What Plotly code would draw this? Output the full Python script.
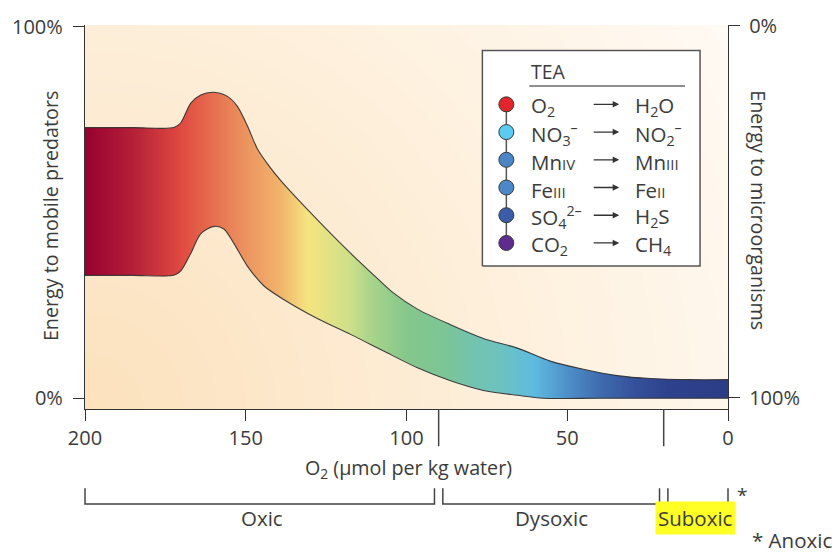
import numpy as np
import plotly.graph_objects as go

# ---------------- data ----------------
# O2 concentration (µmol per kg water) and share of energy to mobile predators (%)
upper_o2 = [200, 185, 172.4, 170.2, 167.1, 164.0, 159.9, 155.7, 152.6, 149.5, 146.4, 143.3,
            139.1, 128.9, 118.3, 109.0, 104.3, 96.6, 86.3, 76.1, 65.5, 55.3, 45.0, 34.5,
            24.2, 12.0, 0]
upper_pct = [72.9, 72.9, 72.9, 74.2, 79.5, 81.7, 82.4, 81.3, 78.6, 73.4, 67.2, 63.2,
             58.6, 49.1, 39.8, 32.2, 28.5, 24.0, 19.8, 16.1, 13.5, 10.0, 7.8, 6.1,
             5.3, 5.0, 5.0]
lower_o2 = [200, 185, 172.4, 170.2, 167.1, 164.0, 159.9, 156.8, 153.7, 149.5, 144.4, 138.2,
            127.6, 117.4, 107.1, 96.6, 86.3, 76.1, 65.5, 57.5, 40, 20, 0]
lower_pct = [33.1, 33.1, 33.1, 34.3, 39.0, 44.3, 46.3, 45.6, 41.7, 35.6, 30.3, 26.6,
             21.4, 17.2, 12.7, 8.2, 4.7, 2.1, 0.8, 0.0, 0.0, 0.0, 0.0]

# colour of the band along the O2 axis
grad_o2 = [0, 18.9, 29.5, 39.8, 50, 60.6, 70, 80, 88, 100, 111, 118, 130.7, 139, 149.5, 160, 170, 185, 200]
grad_colors = ["#2C3D87", "#2E418C", "#35519B", "#3F6BAE", "#4E8FC8", "#5EBBE0", "#6CC2C0",
               "#74C3AE", "#7BC596", "#85C78C", "#A8D48A", "#CFE08A", "#F5E47F", "#F1B56C",
               "#EC9560", "#E6704F", "#E04A40", "#B52038", "#98002F"]

x_ticks = [200, 150, 100, 50, 0]
y_ticks = [0, 100]
y_ticktext = ["0%", "100%"]

zones = ["Oxic", "Dysoxic", "Suboxic"]
zone_hi = [200, 90, 20]
zone_lo = [90, 20, 0]

tea_from = ["O<sub>2</sub>", "NO<sub>3</sub><sup>–</sup>",
            "Mn<span style='font-size:15px'>IV</span>",
            "Fe<span style='font-size:15px'>III</span>",
            "SO<sub>4</sub><sup>2–</sup>", "CO<sub>2</sub>"]
tea_to = ["H<sub>2</sub>O", "NO<sub>2</sub><sup>–</sup>",
          "Mn<span style='font-size:15px'>III</span>",
          "Fe<span style='font-size:15px'>II</span>",
          "H<sub>2</sub>S", "CH<sub>4</sub>"]
tea_colors = ["#E1262B", "#5CCBF2", "#4A85C6", "#4C87C7", "#3B5CA9", "#5E2C8F"]

# ---------------- geometry ----------------
W, H = 837, 555
L, R, T, B = 84, 109, 17, 146
PW, PH = W - L - R, H - T - B
X_RANGE = [200, 0]
Y_RANGE = [-2.9, 100.53]
Y2_RANGE = [103.03, -0.26]
TXT = "#3b3b3b"
LINE = "#333333"
FONT = "Open Sans"


def pxx(px):
    return (px - L) / PW


def pxy(py):
    return (H - B - py) / PH


def xdata2paper(v):
    return (X_RANGE[0] - v) / (X_RANGE[0] - X_RANGE[1])


fig = go.Figure()

# background soft radial gradient (from bottom-left)
bg_x = np.linspace(200, 0, 24)
bg_y = np.linspace(Y_RANGE[0], Y_RANGE[1], 16)
dx = (200 - bg_x) / 200 * PW
dy = (bg_y - Y_RANGE[0]) / (Y_RANGE[1] - Y_RANGE[0]) * PH
bg_z = np.sqrt(dx[None, :] ** 2 + dy[:, None] ** 2) / np.hypot(PW, PH)
fig.add_trace(go.Heatmap(
    x=bg_x, y=bg_y, z=bg_z, zsmooth="best", showscale=False, hoverinfo="skip",
    zmin=0, zmax=1,
    colorscale=[[0, "#FCE1BC"], [0.35, "#FDEAD0"], [0.7, "#FEF3E3"], [1, "#FFFAF4"]]))

# the energy band
band_scale = [[o / 200, c] for o, c in zip(grad_o2, grad_colors)]
outline = dict(color="rgba(45,45,45,0.9)", width=1.1, shape="spline", smoothing=0.8)
fig.add_trace(go.Scatter(x=lower_o2, y=lower_pct, mode="lines", line=outline,
                         hoverinfo="skip", showlegend=False))
fig.add_trace(go.Scatter(x=upper_o2, y=upper_pct, mode="lines", line=outline,
                         fill="tonexty",
                         fillgradient=dict(type="horizontal", colorscale=band_scale,
                                           start=0, stop=200),
                         hoverinfo="skip", showlegend=False))

# dummy on the right axis so it is drawn
fig.add_trace(go.Scatter(x=[100], y=[50], yaxis="y2", mode="markers",
                         marker=dict(opacity=0), hoverinfo="skip", showlegend=False))

# ---------------- TEA legend (inset axes x3/y3) ----------------
row_step = 28.3
row0 = 98
lx0, lx1 = 476, 706
ly0, ly1 = 37, 269
y3_range = [(ly1 - row0) / row_step, (ly0 - row0) / row_step]
box_top = (43 - row0) / row_step
box_bot = (263 - row0) / row_step
fig.add_trace(go.Scatter(x=[482, 700, 700, 482, 482], y=[box_bot, box_bot, box_top, box_top, box_bot],
                         xaxis="x3", yaxis="y3", mode="lines", fill="toself", fillcolor="white",
                         line=dict(color="#555555", width=1.5), hoverinfo="skip", showlegend=False))
fig.add_trace(go.Scatter(x=[529, 685], y=[(79.3 - row0) / row_step] * 2, xaxis="x3", yaxis="y3",
                         mode="lines", line=dict(color="#6a6a6a", width=1.6),
                         hoverinfo="skip", showlegend=False))
rows = list(range(len(tea_from)))
fig.add_trace(go.Scatter(x=[506] * len(rows), y=rows, xaxis="x3", yaxis="y3", mode="lines",
                         line=dict(color="#555555", width=1.5), hoverinfo="skip", showlegend=False))
fig.add_trace(go.Scatter(x=[506] * len(rows), y=rows, xaxis="x3", yaxis="y3", mode="markers",
                         marker=dict(size=15, color=tea_colors, line=dict(color="#3a3a3a", width=1)),
                         hoverinfo="skip", showlegend=False))

annotations = []
annotations.append(dict(x=529, y=(64.5 - row0) / row_step, xref="x3", yref="y3", text="TEA",
                        showarrow=False, xanchor="left", yanchor="middle",
                        font=dict(size=19.5, color=TXT)))
for i, (a, b) in enumerate(zip(tea_from, tea_to)):
    annotations.append(dict(x=529, y=i, xref="x3", yref="y3", text=a, showarrow=False,
                            xanchor="left", yanchor="middle", yshift=-2,
                            font=dict(size=20.5, color=TXT)))
    annotations.append(dict(x=633, y=i, xref="x3", yref="y3", text=b, showarrow=False,
                            xanchor="left", yanchor="middle", yshift=-2,
                            font=dict(size=20.5, color=TXT)))
    annotations.append(dict(x=619, y=i, xref="x3", yref="y3", ax=592, ay=i,
                            axref="x3", ayref="y3", text="", showarrow=True,
                            arrowhead=2, arrowsize=1, arrowwidth=1.3, arrowcolor="#333333"))


def note(x, y, text, size=19.7, **kw):
    d = dict(x=x, y=y, xref="paper", yref="paper", text=text, showarrow=False,
             xanchor="center", yanchor="middle", font=dict(size=size, color=TXT))
    d.update(kw)
    annotations.append(d)


# ---------------- axis titles ----------------
note(pxx(49), pxy(212), "Energy to mobile predators", textangle=-90)
note(pxx(759), pxy(206), "Energy to microorganisms", textangle=90)
note(pxx(408), pxy(470), "O<sub>2</sub> (μmol per kg water)")

# ---------------- zone brackets ----------------
shapes = []
gap = 1.3
yb_top, yb_bot = pxy(490), pxy(506)
for name, hi, lo in zip(zones, zone_hi, zone_lo):
    xl = xdata2paper(hi - gap if hi < 200 else hi)
    xr = xdata2paper(lo + gap if lo > 0 else lo)
    shapes.append(dict(type="path", xref="paper", yref="paper",
                       path=f"M {xl},{yb_top} L {xl},{yb_bot} L {xr},{yb_bot} L {xr},{yb_top}",
                       line=dict(color="#444444", width=1.5)))
    extra = dict(bgcolor="#FFFF26", borderpad=2) if name == "Suboxic" else {}
    note(xdata2paper((hi + lo) / 2), pxy(520), name, size=20.5, **extra)
for v in zone_lo[:-1]:
    shapes.append(dict(type="line", xref="paper", yref="paper",
                       x0=xdata2paper(v), x1=xdata2paper(v), y0=0, y1=pxy(447),
                       line=dict(color="#444444", width=1.5)))

note(pxx(742), pxy(497), "*", size=19)
note(pxx(834), pxy(543), "* Anoxic", size=20.5, xanchor="right")

axis_common = dict(showgrid=False, zeroline=False, showline=True, linecolor=LINE, linewidth=1.3,
                   ticks="outside", ticklen=11, tickwidth=1.3, tickcolor=LINE,
                   tickfont=dict(size=20, color=TXT, family=FONT), fixedrange=True)

fig.update_layout(
    width=W, height=H,
    margin=dict(l=L, r=R, t=T, b=B, pad=0),
    paper_bgcolor="white", plot_bgcolor="rgba(0,0,0,0)",
    font=dict(family=FONT, color=TXT),
    showlegend=False,
    xaxis=dict(range=X_RANGE, tickvals=x_ticks, **axis_common),
    yaxis=dict(range=Y_RANGE, tickvals=y_ticks, ticktext=y_ticktext, ticklabelstandoff=6,
               **axis_common),
    yaxis2=dict(range=Y2_RANGE, tickvals=y_ticks, ticktext=y_ticktext, overlaying="y",
                side="right", ticklabelstandoff=5, **axis_common),
    xaxis3=dict(domain=[pxx(lx0), pxx(lx1)], range=[lx0, lx1], visible=False, anchor="y3",
                fixedrange=True),
    yaxis3=dict(domain=[pxy(ly1), pxy(ly0)], range=y3_range, visible=False, anchor="x3",
                fixedrange=True),
    annotations=annotations,
    shapes=shapes,
)

fig.write_html("out.html", config={"displayModeBar": False},
               post_script="document.body.style.margin='0px';")
